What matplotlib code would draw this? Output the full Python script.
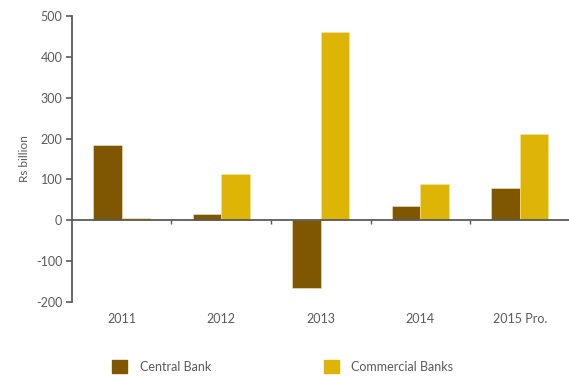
import numpy as np
import matplotlib.pyplot as plt
from matplotlib.patches import Patch

# datos
years = ['2011', '2012', '2013', '2014', '2015 Pro.']
central_bank = [184, 15, -167, 35, 79]
commercial_banks = [5, 113, 461, 90, 211]

c_cb = '#7f5700'
c_com = '#deb406'
grey = '#5a5a5a'

plt.rcParams['font.family'] = ['Lato', 'DejaVu Sans']

fig = plt.figure(figsize=(5.69, 3.77), dpi=100)
ax = fig.add_axes([0.1265, 0.199, 0.8745, 0.7585])

x = np.arange(len(years))
w = 0.286
ax.bar(x - w/2, central_bank, width=w, color=c_cb, edgecolor='#f1e6cf', linewidth=0.4)
ax.bar(x + w/2, commercial_banks, width=w, color=c_com, edgecolor='#f3e3a0', linewidth=0.4)

ax.set_xlim(-0.5, len(years) - 0.5)
ax.set_ylim(-200, 500)
ax.set_yticks(range(-200, 501, 100))
ax.set_yticklabels([str(v) for v in range(-200, 501, 100)], fontsize=9, color=grey)
ax.set_ylabel('Rs billion', fontsize=8.5, color=grey, labelpad=4)

for s in ['top', 'right']:
    ax.spines[s].set_visible(False)
ax.spines['left'].set_color(grey)
ax.spines['left'].set_linewidth(1.3)
ax.spines['bottom'].set_position(('data', 0))
ax.spines['bottom'].set_color(grey)
ax.spines['bottom'].set_linewidth(1.3)

ax.tick_params(axis='y', length=4, width=1.2, color=grey, pad=3)
ax.set_xticks(np.arange(0.5, len(years) - 0.5, 1))
ax.set_xticklabels([])
ax.tick_params(axis='x', length=3, width=1, color=grey, direction='out')

for i, yr in enumerate(years):
    ax.text(i, -0.06, yr, transform=ax.get_xaxis_transform(), ha='center', va='center',
            fontsize=9, color=grey)

legend_items = [('Central Bank', c_cb, 0.197), ('Commercial Banks', c_com, 0.569)]
for label, col, xpos in legend_items:
    fig.legend(handles=[Patch(color=col, label=label)], loc='center left',
               bbox_to_anchor=(xpos, 0.027), frameon=False, fontsize=9, labelcolor=grey,
               handlelength=1.2, handleheight=1.2, handletextpad=1.0,
               borderpad=0, borderaxespad=0)

fig.savefig('out.png', dpi=100)
